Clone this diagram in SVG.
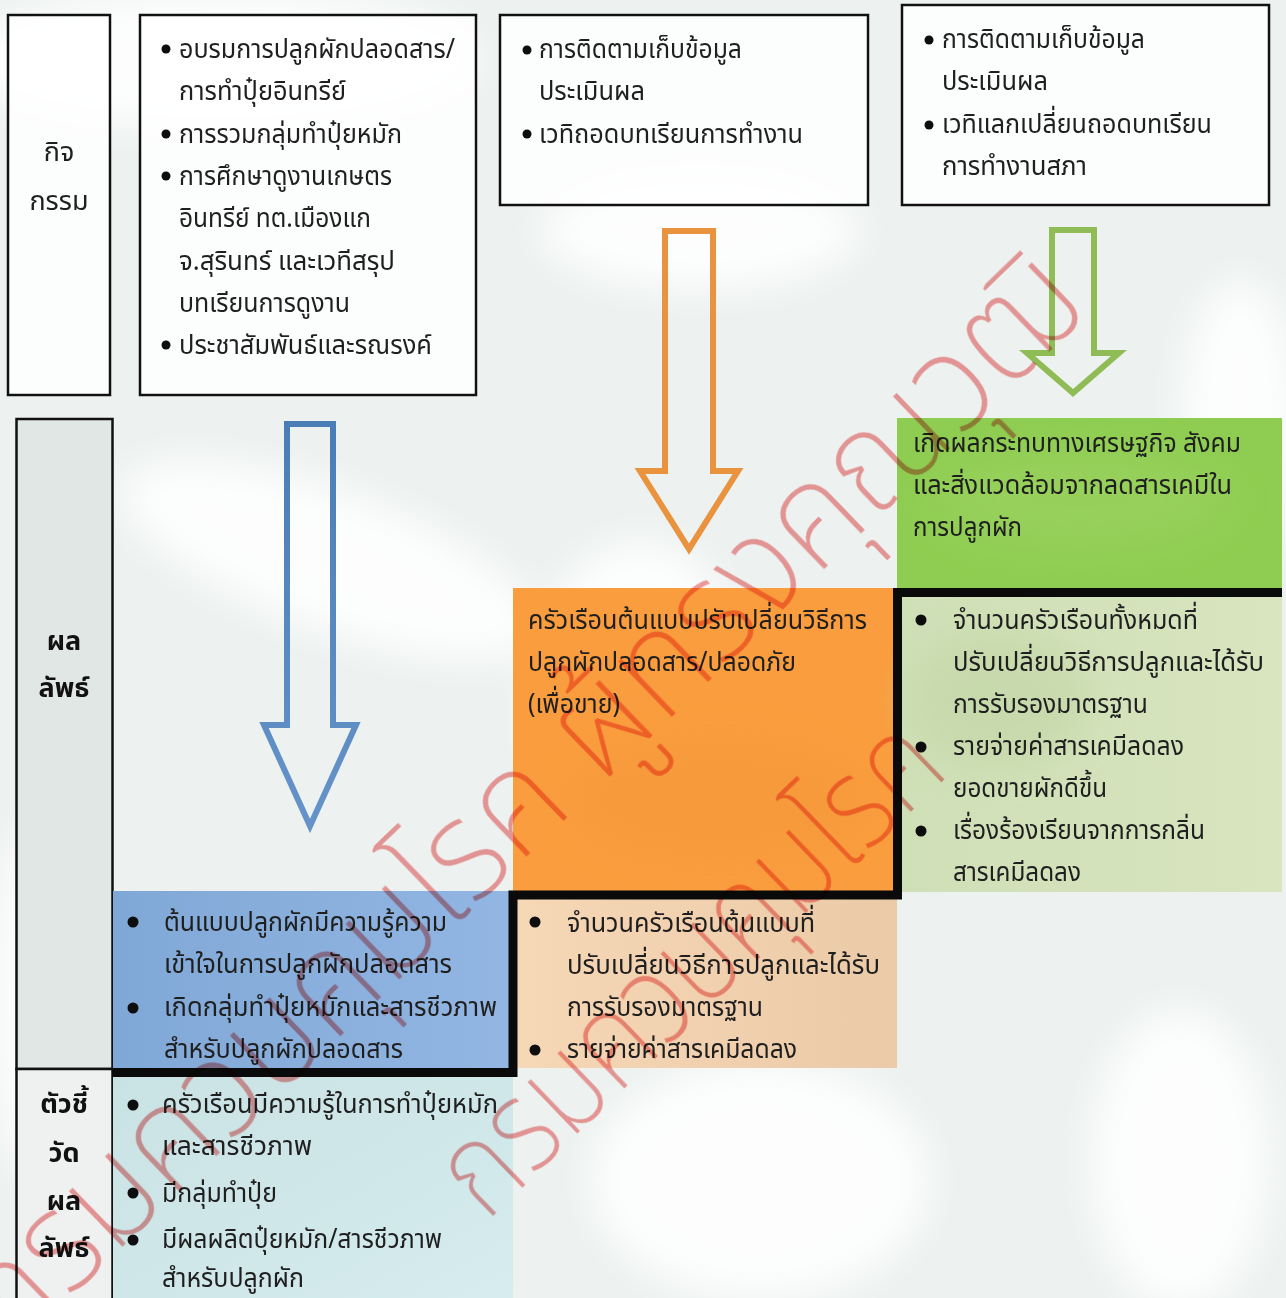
<svg xmlns="http://www.w3.org/2000/svg" width="1286" height="1298" viewBox="0 0 1286 1298">
  <defs>
    <style>
      .t { font-family: "Noto Sans Thai", "Noto Sans", "DejaVu Sans", sans-serif; font-size: 27px; fill: #1f1f1f; }
      .b { font-weight: bold; fill: #111; }
      .frame { fill: #ffffff; fill-opacity: 0.82; stroke: #111; stroke-width: 2.5; }
      .arrow { fill: none; stroke-width: 6; stroke-linejoin: miter; stroke-miterlimit: 10; }
      .dot { fill: #0d0d0d; }
      .wm { font-family: "Noto Sans Thai", "Noto Sans", sans-serif; font-weight: 200; fill: #f29c9c; mix-blend-mode: multiply; }
    </style>
    <filter id="soft" x="-30%" y="-30%" width="160%" height="160%">
      <feGaussianBlur stdDeviation="18"/>
    </filter>
    <linearGradient id="gBlue" x1="0" y1="0" x2="1" y2="0">
      <stop offset="0" stop-color="#80a8d6"/>
      <stop offset="1" stop-color="#93b6e3"/>
    </linearGradient>
    <linearGradient id="gTeal" x1="0" y1="0" x2="1" y2="1">
      <stop offset="0" stop-color="#c9e2e3"/>
      <stop offset="1" stop-color="#d6ecef"/>
    </linearGradient>
    <linearGradient id="gPeach" x1="0" y1="0" x2="1" y2="0">
      <stop offset="0" stop-color="#f6d7b6"/>
      <stop offset="1" stop-color="#ebcaa7"/>
    </linearGradient>
    <linearGradient id="gLeaf" x1="0" y1="0" x2="1" y2="0">
      <stop offset="0" stop-color="#cfdfb6"/>
      <stop offset="1" stop-color="#d8e5bf"/>
    </linearGradient>
    <linearGradient id="gArrowBlue" x1="0" y1="0" x2="0" y2="1">
      <stop offset="0" stop-color="#4a7db6"/>
      <stop offset="1" stop-color="#6593c9"/>
    </linearGradient>
  </defs>

  <!-- page background with a faint seal pattern -->
  <rect x="0" y="0" width="1286" height="1298" fill="#edf2f0"/>
  <g filter="url(#soft)" fill="#ffffff" opacity="0.85">
    <ellipse cx="220" cy="60" rx="260" ry="70"/>
    <ellipse cx="700" cy="230" rx="160" ry="60"/>
    <ellipse cx="330" cy="560" rx="220" ry="70" transform="rotate(20 330 560)"/>
    <ellipse cx="640" cy="700" rx="110" ry="160"/>
    <ellipse cx="760" cy="1180" rx="170" ry="120"/>
    <ellipse cx="1180" cy="1160" rx="90" ry="150"/>
    <ellipse cx="1240" cy="420" rx="60" ry="140"/>
    <ellipse cx="40" cy="1000" rx="50" ry="180"/>
  </g>

  <!-- row headers -->
  <g id="label-activity">
    <rect class="frame" x="8" y="15" width="102" height="380"/>
    <text class="t" x="59" y="161" text-anchor="middle">กิจ</text>
    <text class="t" x="59" y="210" text-anchor="middle">กรรม</text>
  </g>
  <g id="label-outcome">
    <rect x="16.5" y="419" width="96" height="650" fill="#e1e7e5" stroke="#111" stroke-width="2.5"/>
    <text class="t b" x="64" y="650" text-anchor="middle">ผล</text>
    <text class="t b" x="64" y="697" text-anchor="middle">ลัพธ์</text>
  </g>
  <g id="label-indicator">
    <rect x="16.5" y="1069" width="96" height="240" fill="#eef1f0" stroke="#111" stroke-width="2.5"/>
    <text class="t b" x="64" y="1113" text-anchor="middle">ตัวชี้</text>
    <text class="t b" x="64" y="1162" text-anchor="middle">วัด</text>
    <text class="t b" x="64" y="1210" text-anchor="middle">ผล</text>
    <text class="t b" x="64" y="1257" text-anchor="middle">ลัพธ์</text>
  </g>

  <!-- activity boxes -->
  <g id="activity-1">
    <rect class="frame" x="140" y="15" width="336" height="380"/>
    <circle class="dot" cx="166" cy="49" r="4.5"/>
    <circle class="dot" cx="166" cy="134" r="4.5"/>
    <circle class="dot" cx="166" cy="176" r="4.5"/>
    <circle class="dot" cx="166" cy="345" r="4.5"/>
    <text class="t" x="179" y="58" textLength="276" lengthAdjust="spacingAndGlyphs">อบรมการปลูกผักปลอดสาร/</text>
    <text class="t" x="179" y="100" textLength="167" lengthAdjust="spacingAndGlyphs">การทำปุ๋ยอินทรีย์</text>
    <text class="t" x="179" y="143" textLength="223" lengthAdjust="spacingAndGlyphs">การรวมกลุ่มทำปุ๋ยหมัก</text>
    <text class="t" x="179" y="185" textLength="213" lengthAdjust="spacingAndGlyphs">การศึกษาดูงานเกษตร</text>
    <text class="t" x="179" y="227" textLength="192" lengthAdjust="spacingAndGlyphs">อินทรีย์ ทต.เมืองแก</text>
    <text class="t" x="179" y="270" textLength="216" lengthAdjust="spacingAndGlyphs">จ.สุรินทร์ และเวทีสรุป</text>
    <text class="t" x="179" y="312" textLength="171" lengthAdjust="spacingAndGlyphs">บทเรียนการดูงาน</text>
    <text class="t" x="179" y="354" textLength="253" lengthAdjust="spacingAndGlyphs">ประชาสัมพันธ์และรณรงค์</text>
  </g>
  <g id="activity-2">
    <rect class="frame" x="500" y="15" width="368" height="190"/>
    <circle class="dot" cx="527" cy="50" r="4.5"/>
    <circle class="dot" cx="527" cy="134" r="4.5"/>
    <text class="t" x="539" y="58" textLength="203" lengthAdjust="spacingAndGlyphs">การติดตามเก็บข้อมูล</text>
    <text class="t" x="539" y="100" textLength="106" lengthAdjust="spacingAndGlyphs">ประเมินผล</text>
    <text class="t" x="539" y="143" textLength="264" lengthAdjust="spacingAndGlyphs">เวทิถอดบทเรียนการทำงาน</text>
  </g>
  <g id="activity-3">
    <rect class="frame" x="902" y="5" width="367" height="200"/>
    <circle class="dot" cx="929" cy="40" r="4.5"/>
    <circle class="dot" cx="929" cy="125" r="4.5"/>
    <text class="t" x="942" y="48" textLength="203" lengthAdjust="spacingAndGlyphs">การติดตามเก็บข้อมูล</text>
    <text class="t" x="942" y="90" textLength="106" lengthAdjust="spacingAndGlyphs">ประเมินผล</text>
    <text class="t" x="942" y="133" textLength="270" lengthAdjust="spacingAndGlyphs">เวทิแลกเปลี่ยนถอดบทเรียน</text>
    <text class="t" x="942" y="175" textLength="145" lengthAdjust="spacingAndGlyphs">การทำงานสภา</text>
  </g>

  <!-- outcome boxes -->
  <g id="outcome-green">
    <rect x="897" y="418" width="385" height="172" fill="#8fcd52"/>
    <ellipse cx="1080" cy="500" rx="150" ry="50" fill="#9ed465" opacity="0.5" filter="url(#soft)"/>
    <text class="t" x="913" y="452" textLength="328" lengthAdjust="spacingAndGlyphs">เกิดผลกระทบทางเศรษฐกิจ สังคม</text>
    <text class="t" x="913" y="494" textLength="319" lengthAdjust="spacingAndGlyphs">และสิ่งแวดล้อมจากลดสารเคมีใน</text>
    <text class="t" x="913" y="536" textLength="109" lengthAdjust="spacingAndGlyphs">การปลูกผัก</text>
  </g>
  <g id="outcome-orange">
    <rect x="513" y="588" width="382" height="305" fill="#fa9d3e"/>
    <ellipse cx="720" cy="800" rx="150" ry="60" fill="#f19539" opacity="0.35" filter="url(#soft)"/>
    <text class="t" x="528" y="629" textLength="339" lengthAdjust="spacingAndGlyphs">ครัวเรือนต้นแบบปรับเปลี่ยนวิธีการ</text>
    <text class="t" x="528" y="671" textLength="268" lengthAdjust="spacingAndGlyphs">ปลูกผักปลอดสาร/ปลอดภัย</text>
    <text class="t" x="528" y="713" textLength="92" lengthAdjust="spacingAndGlyphs">(เพื่อขาย)</text>
  </g>
  <g id="outcome-blue">
    <rect x="113" y="891" width="400" height="180" fill="url(#gBlue)"/>
    <circle class="dot" cx="133" cy="922" r="5.5"/>
    <circle class="dot" cx="133" cy="1008" r="5.5"/>
    <text class="t" x="164" y="931" textLength="283" lengthAdjust="spacingAndGlyphs">ต้นแบบปลูกผักมีความรู้ความ</text>
    <text class="t" x="164" y="973" textLength="288" lengthAdjust="spacingAndGlyphs">เข้าใจในการปลูกผักปลอดสาร</text>
    <text class="t" x="164" y="1016" textLength="333" lengthAdjust="spacingAndGlyphs">เกิดกลุ่มทำปุ๋ยหมักและสารชีวภาพ</text>
    <text class="t" x="164" y="1058" textLength="239" lengthAdjust="spacingAndGlyphs">สำหรับปลูกผักปลอดสาร</text>
  </g>

  <!-- indicator boxes -->
  <g id="indicator-green">
    <rect x="900" y="596" width="382" height="296" fill="url(#gLeaf)"/>
    <ellipse cx="1000" cy="700" rx="90" ry="70" fill="#c4d8a8" opacity="0.7" filter="url(#soft)"/>
    <circle class="dot" cx="921" cy="620" r="5.5"/>
    <circle class="dot" cx="921" cy="747" r="5.5"/>
    <circle class="dot" cx="921" cy="831" r="5.5"/>
    <text class="t" x="953" y="629" textLength="245" lengthAdjust="spacingAndGlyphs">จำนวนครัวเรือนทั้งหมดที่</text>
    <text class="t" x="953" y="671" textLength="311" lengthAdjust="spacingAndGlyphs">ปรับเปลี่ยนวิธีการปลูกและได้รับ</text>
    <text class="t" x="953" y="713" textLength="195" lengthAdjust="spacingAndGlyphs">การรับรองมาตรฐาน</text>
    <text class="t" x="953" y="755" textLength="231" lengthAdjust="spacingAndGlyphs">รายจ่ายค่าสารเคมีลดลง</text>
    <text class="t" x="953" y="797" textLength="154" lengthAdjust="spacingAndGlyphs">ยอดขายผักดีขึ้น</text>
    <text class="t" x="953" y="839" textLength="252" lengthAdjust="spacingAndGlyphs">เรื่องร้องเรียนจากการกลิ่น</text>
    <text class="t" x="953" y="881" textLength="128" lengthAdjust="spacingAndGlyphs">สารเคมีลดลง</text>
  </g>
  <g id="indicator-orange">
    <rect x="515" y="897" width="382" height="171" fill="url(#gPeach)"/>
    <circle class="dot" cx="535" cy="922" r="5.5"/>
    <circle class="dot" cx="535" cy="1050" r="5.5"/>
    <text class="t" x="567" y="932" textLength="248" lengthAdjust="spacingAndGlyphs">จำนวนครัวเรือนต้นแบบที่</text>
    <text class="t" x="567" y="974" textLength="313" lengthAdjust="spacingAndGlyphs">ปรับเปลี่ยนวิธีการปลูกและได้รับ</text>
    <text class="t" x="567" y="1016" textLength="196" lengthAdjust="spacingAndGlyphs">การรับรองมาตรฐาน</text>
    <text class="t" x="567" y="1058" textLength="230" lengthAdjust="spacingAndGlyphs">รายจ่ายค่าสารเคมีลดลง</text>
  </g>
  <g id="indicator-blue">
    <rect x="113" y="1074" width="400" height="224" fill="url(#gTeal)"/>
    <circle class="dot" cx="133" cy="1105" r="5.5"/>
    <circle class="dot" cx="133" cy="1193" r="5.5"/>
    <circle class="dot" cx="133" cy="1240" r="5.5"/>
    <text class="t" x="162" y="1113" textLength="336" lengthAdjust="spacingAndGlyphs">ครัวเรือนมีความรู้ในการทำปุ๋ยหมัก</text>
    <text class="t" x="162" y="1155" textLength="150" lengthAdjust="spacingAndGlyphs">และสารชีวภาพ</text>
    <text class="t" x="162" y="1202" textLength="115" lengthAdjust="spacingAndGlyphs">มีกลุ่มทำปุ๋ย</text>
    <text class="t" x="162" y="1248" textLength="280" lengthAdjust="spacingAndGlyphs">มีผลผลิตปุ๋ยหมัก/สารชีวภาพ</text>
    <text class="t" x="162" y="1287" textLength="142" lengthAdjust="spacingAndGlyphs">สำหรับปลูกผัก</text>
  </g>

  <!-- connectors: block arrows and the stepped divider -->
  <g id="connectors">
    <polygon class="arrow" stroke="url(#gArrowBlue)" points="287,424 333,424 333,725 356,725 310,826 264,725 287,725"/>
    <polygon class="arrow" stroke="#ea933f" points="665,231 713,231 713,471 738,471 689,549 640,471 665,471"/>
    <polygon class="arrow" stroke="#8fbc55" points="1052,230 1094,230 1094,353 1119,353 1073,393 1027,353 1052,353"/>
    <path d="M112,1072.5 H513 V895 H897.5 V592.5 H1282" fill="none" stroke="#0a0a0a" stroke-width="9" stroke-linejoin="miter"/>
  </g>

  <!-- diagonal watermark -->
  <g id="watermark">
    <text class="wm" font-size="140" transform="translate(12 1354) rotate(-44)" textLength="1500" lengthAdjust="spacingAndGlyphs">กรมควบคุมโรค ผู้ทรงคุณวุฒิ</text>
    <text class="wm" font-size="130" transform="translate(486 1222) rotate(-44)" textLength="647" lengthAdjust="spacingAndGlyphs">กรมควบคุมโรค</text>
  </g>
</svg>
